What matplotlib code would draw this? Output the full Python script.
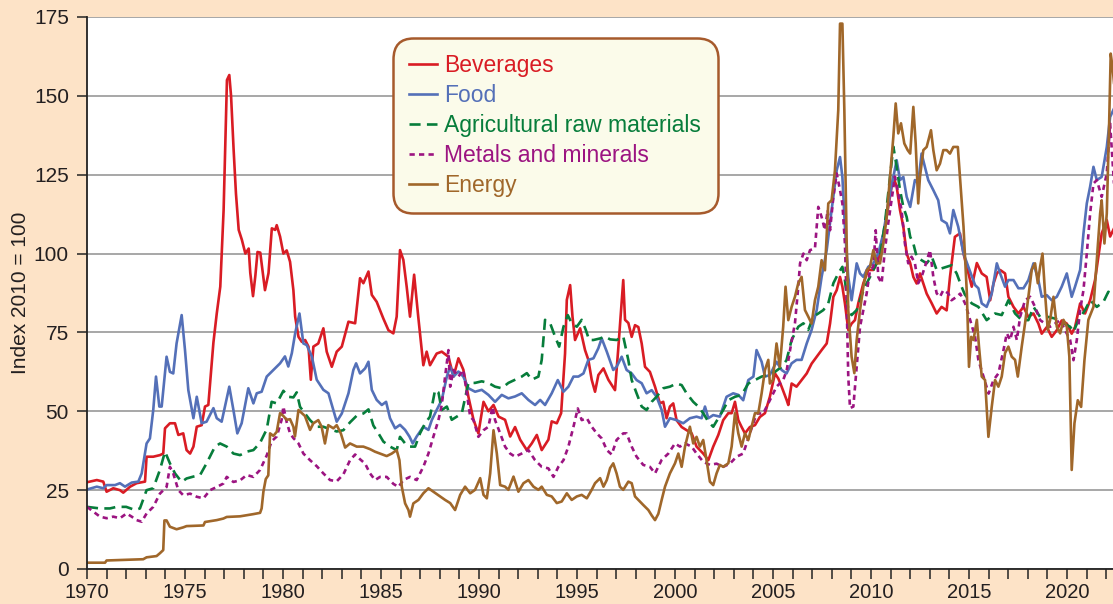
import matplotlib
matplotlib.use("Agg")
import matplotlib.pyplot as plt
from matplotlib.ticker import MultipleLocator

plt.rcParams["font.family"] = ["Liberation Sans", "DejaVu Sans"]

# values (index, 2010 = 100)
bev_t = [1970.0, 1970.5, 1970.83, 1971.0, 1971.34, 1971.68, 1971.85, 1972.2, 1972.53, 1972.96,
         1973.04, 1973.38, 1973.72, 1973.89, 1973.98, 1974.23, 1974.49, 1974.66, 1974.91, 1975.08,
         1975.26, 1975.43, 1975.6, 1975.85, 1976.02, 1976.19, 1976.45, 1976.62, 1976.8, 1976.97,
         1977.14, 1977.26, 1977.35, 1977.48, 1977.6, 1977.74, 1977.9, 1978.08, 1978.25, 1978.33,
         1978.47, 1978.59, 1978.7, 1978.84, 1979.08, 1979.26, 1979.43, 1979.6, 1979.68, 1979.85,
         1980.02, 1980.19, 1980.36, 1980.53, 1980.62, 1980.79, 1980.96, 1981.13, 1981.3, 1981.42,
         1981.55, 1981.8, 1982.06, 1982.23, 1982.49, 1982.74, 1983.0, 1983.34, 1983.68, 1983.93,
         1984.1, 1984.36, 1984.53, 1984.78, 1985.12, 1985.38, 1985.63, 1985.8, 1985.97, 1986.14,
         1986.31, 1986.48, 1986.69, 1986.9, 1987.16, 1987.33, 1987.5, 1987.84, 1988.1, 1988.44,
         1988.7, 1988.95, 1989.2, 1989.46, 1989.72, 1989.97, 1990.23, 1990.48, 1990.74, 1991.0,
         1991.33, 1991.59, 1991.84, 1992.1, 1992.44, 1992.69, 1992.95, 1993.2, 1993.54, 1993.71,
         1993.97, 1994.19, 1994.39, 1994.48, 1994.65, 1994.77, 1994.9, 1995.16, 1995.41, 1995.58,
         1995.75, 1995.92, 1996.09, 1996.35, 1996.6, 1996.94, 1997.1, 1997.36, 1997.45, 1997.62,
         1997.79, 1997.96, 1998.13, 1998.3, 1998.47, 1998.72, 1998.98, 1999.23, 1999.4, 1999.57,
         1999.74, 1999.91, 2000.08, 2000.34, 2000.59, 2000.85, 2001.1, 2001.44, 2001.7, 2001.95,
         2002.21, 2002.46, 2002.72, 2002.89, 2003.06, 2003.23, 2003.4, 2003.57, 2003.82, 2004.08,
         2004.33, 2004.59, 2004.84, 2005.1, 2005.27, 2005.44, 2005.7, 2005.78, 2005.95, 2006.2,
         2006.46, 2006.72, 2006.97, 2007.23, 2007.48, 2007.74, 2007.91, 2008.08, 2008.25, 2008.42,
         2008.54, 2008.67, 2008.84, 2009.01, 2009.18, 2009.35, 2009.61, 2009.86, 2010.12, 2010.37,
         2010.54, 2010.71, 2010.97, 2011.14, 2011.31, 2011.48, 2011.65, 2011.82, 2012.0, 2012.16,
         2012.33, 2012.5, 2012.67, 2012.84, 2013.1, 2013.35, 2013.6, 2013.86, 2014.03, 2014.28,
         2014.54, 2014.72, 2014.97, 2015.14, 2015.4, 2015.65, 2015.9, 2016.08, 2016.25, 2016.42,
         2016.59, 2016.84, 2017.01, 2017.27, 2017.52, 2017.78, 2018.03, 2018.29, 2018.54, 2018.71,
         2018.97, 2019.22, 2019.48, 2019.73, 2019.99, 2020.24, 2020.41, 2020.67, 2020.92, 2021.18,
         2021.43, 2021.77, 2022.03, 2022.2, 2022.4]
bev_v = [27.5, 28.2, 27.7, 24.5, 25.6, 25.0, 24.2, 26.1, 27.2, 27.7,
         35.6, 35.6, 36.1, 36.6, 44.6, 46.2, 46.2, 42.5, 43.0, 37.7,
         36.6, 38.8, 45.1, 45.6, 51.5, 52.0, 71.8, 81.0, 89.5, 113.8,
         155.0, 156.6, 150.0, 133.0, 119.0, 107.5, 104.4, 100.0, 101.6, 93.9,
         86.5, 93.0, 100.5, 100.3, 88.4, 93.8, 108.0, 107.5, 109.0, 105.4,
         100.0, 101.0, 97.4, 88.4, 80.0, 73.6, 72.0, 72.6, 70.5, 60.0,
         70.5, 71.5, 76.3, 68.9, 64.1, 68.9, 70.5, 78.4, 77.9, 92.2,
         90.6, 94.3, 86.9, 84.7, 79.4, 75.7, 74.7, 80.0, 101.1, 98.0,
         89.5, 80.0, 93.3, 80.0, 64.6, 68.9, 64.6, 68.3, 68.9, 67.3,
         61.0, 66.8, 63.2, 54.6, 47.3, 43.0, 53.0, 50.0, 52.0, 48.3,
         47.3, 42.0, 45.0, 41.0, 37.7, 39.8, 42.5, 37.7, 41.0, 46.8,
         46.2, 49.4, 68.3, 85.3, 90.0, 80.0, 72.6, 76.3, 69.4, 66.3,
         60.0, 56.2, 61.5, 63.6, 60.0, 56.7, 69.4, 91.6, 79.0, 78.0,
         73.6, 77.3, 76.7, 71.5, 64.1, 62.5, 57.8, 52.5, 53.0, 47.8,
         51.5, 52.5, 47.2, 45.0, 44.0, 43.0, 38.8, 36.6, 34.5, 38.8,
         42.5, 47.2, 49.4, 49.4, 53.0, 47.2, 45.0, 43.0, 45.0, 45.6,
         48.2, 49.4, 54.6, 62.0, 60.4, 57.8, 53.5, 52.0, 58.8, 57.8,
         59.9, 62.0, 65.1, 67.3, 69.4, 71.5, 77.8, 86.3, 88.4, 92.6,
         89.5, 84.2, 75.8, 77.8, 78.9, 84.2, 90.6, 94.8, 94.8, 98.0,
         103.2, 108.5, 118.0, 124.4, 121.2, 113.8, 108.5, 100.0, 97.0, 92.6,
         90.5, 93.7, 90.5, 87.3, 84.2, 81.0, 83.1, 82.0, 92.6, 105.3,
         106.4, 100.0, 93.7, 89.5, 97.0, 93.7, 92.6, 85.2, 90.5, 93.7,
         94.8, 93.7, 86.3, 83.1, 81.0, 83.1, 79.9, 81.0, 77.8, 74.6,
         76.7, 73.6, 75.7, 78.8, 77.8, 74.6, 76.7, 84.2, 81.0, 85.2,
         91.6, 106.4, 110.6, 105.4, 108.0]

food_t = [1970.0, 1970.5, 1970.83, 1971.0, 1971.43, 1971.68, 1971.94, 1972.28, 1972.62, 1972.79,
          1973.04, 1973.21, 1973.38, 1973.52, 1973.69, 1973.81, 1974.06, 1974.23, 1974.4, 1974.57,
          1974.83, 1975.0, 1975.17, 1975.43, 1975.6, 1975.85, 1976.1, 1976.45, 1976.62, 1976.87,
          1977.26, 1977.47, 1977.67, 1977.89, 1978.23, 1978.49, 1978.66, 1978.91, 1979.17, 1979.51,
          1979.85, 1980.1, 1980.27, 1980.45, 1980.62, 1980.84, 1981.04, 1981.21, 1981.47, 1981.72,
          1982.06, 1982.32, 1982.57, 1982.74, 1983.0, 1983.34, 1983.59, 1983.73, 1983.93, 1984.19,
          1984.36, 1984.53, 1984.78, 1985.04, 1985.26, 1985.46, 1985.72, 1985.97, 1986.23, 1986.45,
          1986.62, 1986.82, 1987.16, 1987.42, 1987.59, 1987.84, 1988.1, 1988.36, 1988.53, 1988.7,
          1988.95, 1989.2, 1989.46, 1989.8, 1990.14, 1990.48, 1990.82, 1991.16, 1991.5, 1991.84,
          1992.18, 1992.52, 1992.86, 1993.12, 1993.37, 1993.71, 1994.02, 1994.31, 1994.56, 1994.82,
          1995.07, 1995.33, 1995.58, 1995.84, 1996.09, 1996.26, 1996.52, 1996.85, 1997.02, 1997.28,
          1997.53, 1997.79, 1998.04, 1998.3, 1998.55, 1998.81, 1999.06, 1999.32, 1999.49, 1999.74,
          2000.08, 2000.42, 2000.76, 2001.1, 2001.36, 2001.53, 2001.7, 2001.95, 2002.29, 2002.63,
          2002.97, 2003.23, 2003.48, 2003.74, 2004.0, 2004.16, 2004.42, 2004.59, 2004.84, 2005.18,
          2005.44, 2005.69, 2005.95, 2006.2, 2006.46, 2006.72, 2006.97, 2007.23, 2007.48, 2007.74,
          2007.99, 2008.25, 2008.42, 2008.54, 2008.67, 2008.84, 2009.01, 2009.27, 2009.44, 2009.61,
          2009.86, 2010.12, 2010.37, 2010.63, 2010.88, 2011.14, 2011.31, 2011.48, 2011.65, 2011.82,
          2012.0, 2012.24, 2012.41, 2012.58, 2012.75, 2012.92, 2013.18, 2013.43, 2013.6, 2013.86,
          2014.03, 2014.2, 2014.45, 2014.72, 2014.97, 2015.31, 2015.48, 2015.65, 2015.9, 2016.16,
          2016.42, 2016.59, 2016.84, 2017.01, 2017.27, 2017.52, 2017.78, 2018.03, 2018.29, 2018.54,
          2018.71, 2018.97, 2019.22, 2019.48, 2019.73, 2019.99, 2020.24, 2020.41, 2020.67, 2020.84,
          2021.01, 2021.18, 2021.35, 2021.52, 2021.77, 2022.03, 2022.2, 2022.4]
food_v = [25.2, 26.1, 25.6, 26.6, 26.6, 27.2, 26.1, 27.4, 27.7, 30.3,
          39.8, 41.4, 50.4, 61.0, 51.5, 51.5, 67.3, 62.5, 62.0, 71.5,
          80.5, 69.4, 56.7, 47.8, 54.6, 46.2, 46.7, 51.0, 47.8, 46.7,
          57.8, 50.4, 43.0, 46.2, 57.3, 52.5, 55.7, 56.2, 61.0, 63.1,
          65.2, 67.4, 64.2, 68.4, 74.7, 81.0, 71.5, 71.0, 67.4, 60.0,
          56.8, 55.7, 50.4, 46.7, 49.3, 55.7, 63.1, 65.2, 62.0, 63.6,
          65.7, 56.8, 53.6, 52.0, 53.0, 47.8, 44.6, 45.7, 44.1, 42.0,
          39.8, 42.0, 45.1, 44.1, 47.2, 50.4, 53.6, 61.0, 64.2, 61.0,
          62.6, 61.0, 57.3, 56.2, 56.8, 55.2, 53.0, 55.2, 54.1, 54.7,
          55.7, 53.6, 52.0, 53.6, 52.0, 55.7, 59.9, 56.2, 57.8, 61.0,
          61.0, 62.0, 66.3, 66.8, 70.0, 73.1, 68.9, 63.1, 64.1, 67.3,
          63.1, 62.0, 59.9, 58.9, 55.7, 56.7, 54.6, 50.4, 45.1, 47.8,
          47.2, 46.2, 47.8, 48.3, 47.8, 51.5, 47.8, 48.8, 48.3, 54.6,
          55.7, 55.2, 53.5, 59.9, 61.0, 69.4, 65.7, 61.0, 61.5, 65.7,
          63.1, 62.0, 65.2, 66.3, 66.3, 71.5, 75.8, 82.1, 92.6, 101.1,
          113.8, 126.4, 130.6, 124.3, 108.5, 92.6, 85.2, 96.9, 93.7, 92.6,
          95.8, 96.9, 100.0, 106.4, 115.9, 124.3, 129.6, 123.3, 124.3, 118.0,
          114.8, 123.3, 122.3, 131.7, 127.5, 123.3, 120.1, 116.9, 110.6, 109.6,
          106.4, 113.8, 108.5, 100.0, 95.8, 90.0, 89.0, 84.2, 83.1, 87.3,
          96.9, 93.7, 89.5, 91.6, 91.6, 89.0, 89.0, 91.6, 96.9, 91.6,
          86.3, 86.8, 85.2, 86.3, 89.5, 93.7, 86.3, 89.5, 94.8, 106.4,
          115.9, 121.2, 127.5, 123.3, 124.3, 133.8, 143.3, 146.0]

agri_t = [1970.0, 1970.66, 1971.17, 1971.51, 1972.0, 1972.45, 1972.7, 1973.04, 1973.38, 1973.72,
          1973.98, 1974.23, 1974.49, 1974.83, 1975.08, 1975.43, 1975.77, 1976.1, 1976.53, 1976.79,
          1977.13, 1977.47, 1977.81, 1978.15, 1978.49, 1978.83, 1979.17, 1979.42, 1979.68, 1980.02,
          1980.27, 1980.53, 1980.7, 1980.87, 1981.12, 1981.38, 1981.72, 1982.06, 1982.4, 1982.74,
          1983.08, 1983.42, 1983.76, 1984.1, 1984.36, 1984.61, 1984.87, 1985.12, 1985.46, 1985.8,
          1985.97, 1986.23, 1986.48, 1986.74, 1986.99, 1987.25, 1987.5, 1987.76, 1987.93, 1988.1,
          1988.36, 1988.61, 1988.87, 1989.12, 1989.46, 1989.8, 1990.14, 1990.48, 1990.82, 1991.16,
          1991.5, 1991.84, 1992.18, 1992.44, 1992.69, 1993.03, 1993.2, 1993.37, 1993.63, 1993.88,
          1994.09, 1994.31, 1994.53, 1994.73, 1994.99, 1995.24, 1995.45, 1995.62, 1995.84, 1996.18,
          1996.43, 1996.69, 1997.02, 1997.36, 1997.62, 1997.79, 1998.04, 1998.3, 1998.55, 1998.81,
          1999.06, 1999.4, 1999.74, 2000.08, 2000.34, 2000.59, 2000.93, 2001.19, 2001.44, 2001.7,
          2001.95, 2002.21, 2002.46, 2002.72, 2003.06, 2003.4, 2003.74, 2004.08, 2004.42, 2004.76,
          2005.1, 2005.44, 2005.69, 2005.95, 2006.29, 2006.55, 2006.8, 2007.06, 2007.31, 2007.57,
          2007.82, 2008.08, 2008.33, 2008.54, 2008.67, 2008.84, 2009.01, 2009.27, 2009.44, 2009.69,
          2009.95, 2010.2, 2010.46, 2010.71, 2010.97, 2011.14, 2011.31, 2011.48, 2011.65, 2011.82,
          2012.0, 2012.16, 2012.33, 2012.58, 2012.84, 2013.1, 2013.35, 2013.6, 2013.86, 2014.11,
          2014.37, 2014.62, 2014.79, 2015.14, 2015.48, 2015.9, 2016.33, 2016.67, 2017.01, 2017.35,
          2017.69, 2018.03, 2018.29, 2018.63, 2019.05, 2019.39, 2019.82, 2020.16, 2020.33, 2020.58,
          2020.92, 2021.18, 2021.52, 2021.86, 2022.11, 2022.4]
agri_v = [19.7, 19.2, 19.2, 19.7, 19.7, 18.7, 19.2, 25.0, 25.6, 31.4,
          37.2, 33.5, 30.3, 27.6, 28.7, 29.3, 29.8, 33.5, 38.8, 39.8,
          38.8, 36.6, 36.1, 37.2, 37.7, 40.0, 44.3, 53.0, 52.5, 56.5,
          54.6, 54.4, 56.0, 51.4, 49.3, 47.2, 45.1, 45.1, 44.3, 43.6,
          44.0, 46.5, 48.6, 49.3, 50.6, 45.5, 43.0, 40.4, 38.8, 37.7,
          41.9, 39.8, 38.8, 38.8, 43.0, 46.2, 48.3, 56.8, 56.0, 50.4,
          51.5, 47.3, 48.3, 49.3, 59.0, 59.0, 59.5, 59.0, 57.8, 57.3,
          59.0, 60.0, 61.0, 62.1, 60.0, 61.0, 66.3, 79.0, 77.9, 73.7,
          70.5, 76.8, 80.5, 77.9, 76.8, 79.0, 75.8, 72.6, 72.6, 73.1,
          73.7, 72.8, 72.6, 73.7, 66.2, 59.9, 55.7, 51.5, 50.4, 53.0,
          54.6, 57.3, 57.8, 58.8, 58.3, 55.7, 53.0, 51.5, 49.4, 46.7,
          45.1, 47.8, 50.4, 53.5, 54.6, 55.2, 58.8, 59.9, 61.0, 61.5,
          62.5, 64.1, 66.2, 72.6, 76.8, 77.9, 75.8, 80.0, 81.0, 82.1,
          84.2, 90.6, 93.7, 95.8, 91.6, 82.1, 80.5, 82.1, 85.2, 89.5,
          92.6, 95.8, 99.0, 109.6, 124.4, 133.9, 127.5, 120.1, 114.8, 111.6,
          105.3, 103.2, 99.0, 97.9, 96.9, 99.0, 94.8, 95.3, 95.8, 96.3,
          93.7, 89.5, 87.0, 84.2, 83.1, 78.9, 81.0, 80.5, 85.2, 81.0,
          78.9, 78.9, 83.1, 79.9, 79.9, 79.4, 77.9, 76.8, 75.2, 78.9,
          82.1, 85.2, 83.1, 84.7, 87.9, 86.8]

met_t = [1970.0, 1970.32, 1970.66, 1971.0, 1971.34, 1971.68, 1972.02, 1972.28, 1972.53, 1972.79,
         1973.04, 1973.38, 1973.72, 1974.06, 1974.23, 1974.4, 1974.66, 1974.91, 1975.26, 1975.6,
         1975.94, 1976.28, 1976.62, 1976.96, 1977.13, 1977.47, 1977.81, 1978.15, 1978.49, 1978.83,
         1979.17, 1979.42, 1979.68, 1979.93, 1980.02, 1980.19, 1980.36, 1980.53, 1980.79, 1981.04,
         1981.38, 1981.72, 1982.06, 1982.4, 1982.74, 1983.08, 1983.42, 1983.68, 1983.93, 1984.19,
         1984.44, 1984.7, 1984.95, 1985.29, 1985.63, 1985.89, 1986.14, 1986.48, 1986.82, 1987.16,
         1987.42, 1987.67, 1987.93, 1988.1, 1988.27, 1988.44, 1988.53, 1988.7, 1988.95, 1989.2,
         1989.38, 1989.55, 1989.72, 1989.97, 1990.23, 1990.48, 1990.69, 1990.82, 1991.08, 1991.33,
         1991.59, 1991.84, 1992.18, 1992.52, 1992.86, 1993.2, 1993.54, 1993.8, 1994.05, 1994.31,
         1994.56, 1994.82, 1995.04, 1995.24, 1995.5, 1995.75, 1996.01, 1996.26, 1996.52, 1996.77,
         1997.02, 1997.36, 1997.53, 1997.79, 1998.04, 1998.38, 1998.72, 1998.98, 1999.32, 1999.66,
         2000.0, 2000.25, 2000.51, 2000.85, 2001.1, 2001.44, 2001.78, 2002.12, 2002.46, 2002.8,
         2003.14, 2003.48, 2003.82, 2004.16, 2004.5, 2004.84, 2005.18, 2005.52, 2005.7, 2005.87,
         2006.12, 2006.29, 2006.38, 2006.55, 2006.72, 2006.89, 2007.14, 2007.31, 2007.48, 2007.65,
         2007.79, 2007.91, 2008.08, 2008.25, 2008.42, 2008.54, 2008.67, 2008.76, 2008.84, 2008.93,
         2009.1, 2009.27, 2009.44, 2009.61, 2009.78, 2009.95, 2010.12, 2010.24, 2010.37, 2010.54,
         2010.71, 2010.88, 2011.05, 2011.22, 2011.39, 2011.56, 2011.73, 2011.9, 2012.07, 2012.24,
         2012.41, 2012.58, 2012.75, 2013.01, 2013.18, 2013.35, 2013.52, 2013.69, 2013.94, 2014.11,
         2014.37, 2014.55, 2014.8, 2015.06, 2015.31, 2015.48, 2015.74, 2016.0, 2016.25, 2016.5,
         2016.76, 2016.93, 2017.1, 2017.27, 2017.44, 2017.61, 2017.86, 2018.12, 2018.37, 2018.63,
         2018.88, 2019.14, 2019.39, 2019.65, 2019.9, 2020.16, 2020.33, 2020.5, 2020.67, 2020.84,
         2021.01, 2021.18, 2021.35, 2021.52, 2021.77, 2022.03, 2022.2, 2022.4]
met_v = [19.7, 18.2, 16.6, 16.1, 16.6, 16.1, 17.6, 16.6, 15.5, 15.0,
         17.6, 19.7, 23.9, 26.0, 32.4, 30.3, 25.0, 23.4, 23.9, 22.9,
         22.4, 25.0, 26.0, 27.1, 29.2, 27.6, 28.1, 29.8, 29.2, 31.4,
         36.0, 40.5, 42.0, 47.3, 51.5, 46.5, 43.0, 41.5, 39.8, 36.6,
         34.5, 32.6, 30.3, 28.2, 27.8, 30.0, 34.5, 36.3, 34.8, 33.4,
         30.3, 28.2, 29.2, 29.2, 27.0, 26.0, 28.2, 29.2, 28.2, 32.4,
         36.6, 41.9, 47.2, 52.0, 61.0, 69.4, 57.8, 63.1, 61.0, 63.1,
         55.7, 48.3, 47.2, 41.9, 44.0, 45.1, 51.4, 47.2, 43.0, 38.8,
         36.6, 35.6, 36.6, 37.7, 34.5, 32.4, 31.9, 29.2, 32.4, 34.5,
         38.8, 45.1, 50.9, 47.2, 47.8, 45.1, 43.0, 41.4, 37.7, 36.3,
         40.9, 43.0, 43.0, 38.8, 35.6, 33.0, 32.4, 30.3, 34.6, 36.6,
         39.8, 38.8, 39.8, 38.8, 36.6, 34.0, 33.0, 33.4, 32.4, 33.4,
         35.6, 36.6, 43.0, 49.3, 49.3, 53.5, 57.8, 59.9, 63.0, 69.4,
         77.9, 89.5, 96.9, 100.0, 97.9, 101.1, 101.6, 114.8, 111.6, 107.4,
         113.8, 107.4, 118.0, 125.4, 120.1, 115.9, 103.2, 84.2, 61.0, 51.0,
         51.5, 64.2, 76.8, 82.1, 87.4, 94.8, 95.8, 107.4, 92.6, 90.6,
         101.1, 109.6, 116.9, 124.4, 119.1, 113.8, 103.2, 96.9, 99.0, 96.9,
         90.6, 92.6, 95.8, 101.1, 92.6, 87.4, 86.3, 88.4, 87.4, 85.2,
         86.3, 87.3, 84.2, 78.9, 73.6, 66.2, 61.0, 55.6, 59.9, 62.0,
         69.4, 74.7, 72.6, 76.8, 72.6, 80.0, 85.2, 86.3, 83.1, 78.9,
         77.8, 76.8, 77.8, 78.9, 75.7, 72.6, 66.2, 72.6, 82.1, 88.4,
         100.0, 112.7, 122.2, 123.3, 118.0, 125.4, 141.2, 122.0]

en_t = [1970.0, 1970.92, 1971.0, 1972.02, 1972.87, 1973.04, 1973.55, 1973.72, 1973.89, 1973.95,
        1974.06, 1974.23, 1974.57, 1974.91, 1975.08, 1975.94, 1976.02, 1976.62, 1976.96, 1977.13,
        1977.81, 1978.49, 1978.83, 1978.91, 1979.0, 1979.12, 1979.25, 1979.34, 1979.51, 1979.68,
        1979.85, 1980.02, 1980.19, 1980.36, 1980.53, 1980.61, 1980.79, 1980.95, 1981.12, 1981.38,
        1981.55, 1981.8, 1981.97, 1982.14, 1982.31, 1982.57, 1982.74, 1982.95, 1983.17, 1983.42,
        1983.76, 1984.1, 1984.44, 1984.69, 1984.95, 1985.29, 1985.55, 1985.8, 1985.94, 1986.06,
        1986.23, 1986.4, 1986.48, 1986.65, 1986.91, 1987.16, 1987.42, 1987.67, 1988.02, 1988.27,
        1988.53, 1988.78, 1989.04, 1989.29, 1989.55, 1989.8, 1990.06, 1990.23, 1990.4, 1990.57,
        1990.74, 1990.91, 1991.08, 1991.33, 1991.5, 1991.76, 1992.01, 1992.27, 1992.52, 1992.78,
        1993.03, 1993.2, 1993.46, 1993.71, 1993.97, 1994.22, 1994.48, 1994.73, 1994.99, 1995.24,
        1995.5, 1995.75, 1995.92, 1996.18, 1996.35, 1996.52, 1996.69, 1996.85, 1997.02, 1997.19,
        1997.36, 1997.62, 1997.79, 1997.96, 1998.13, 1998.38, 1998.64, 1998.81, 1998.98, 1999.15,
        1999.32, 1999.49, 1999.74, 2000.0, 2000.17, 2000.34, 2000.51, 2000.68, 2000.76, 2000.93,
        2001.1, 2001.27, 2001.44, 2001.61, 2001.78, 2001.95, 2002.12, 2002.29, 2002.46, 2002.72,
        2002.89, 2003.06, 2003.23, 2003.4, 2003.57, 2003.74, 2003.91, 2004.08, 2004.25, 2004.42,
        2004.59, 2004.76, 2004.84, 2004.99, 2005.18, 2005.35, 2005.52, 2005.64, 2005.78, 2005.95,
        2006.12, 2006.29, 2006.46, 2006.63, 2006.8, 2006.97, 2007.14, 2007.31, 2007.48, 2007.65,
        2007.82, 2007.99, 2008.16, 2008.33, 2008.42, 2008.54, 2008.64, 2008.76, 2008.84, 2009.01,
        2009.15, 2009.27, 2009.44, 2009.61, 2009.78, 2009.95, 2010.12, 2010.29, 2010.46, 2010.63,
        2010.8, 2010.97, 2011.14, 2011.26, 2011.39, 2011.53, 2011.7, 2011.87, 2012.0, 2012.16,
        2012.28, 2012.41, 2012.5, 2012.67, 2012.84, 2013.06, 2013.18, 2013.35, 2013.52, 2013.69,
        2013.86, 2014.03, 2014.2, 2014.43, 2014.55, 2014.72, 2014.89, 2015.0, 2015.11, 2015.23,
        2015.4, 2015.51, 2015.65, 2015.82, 2015.99, 2016.16, 2016.33, 2016.5, 2016.67, 2016.84,
        2017.01, 2017.18, 2017.35, 2017.49, 2017.69, 2017.86, 2018.03, 2018.2, 2018.37, 2018.51,
        2018.63, 2018.75, 2018.88, 2019.02, 2019.14, 2019.31, 2019.48, 2019.65, 2019.82, 2019.99,
        2020.12, 2020.24, 2020.38, 2020.55, 2020.72, 2020.89, 2021.09, 2021.35, 2021.52, 2021.69,
        2021.77, 2021.91, 2022.03, 2022.15, 2022.23, 2022.32, 2022.4]
en_v = [2.0, 2.0, 2.7, 2.9, 3.1, 3.7, 4.1, 5.0, 6.0, 15.4,
        15.4, 13.4, 12.6, 13.2, 13.6, 13.8, 14.9, 15.5, 16.0, 16.5,
        16.7, 17.4, 17.8, 19.2, 24.5, 28.5, 29.7, 43.0, 42.2, 43.5,
        49.4, 48.5, 47.3, 47.5, 45.1, 42.0, 50.4, 49.5, 48.5, 44.1,
        46.2, 47.2, 45.1, 39.8, 45.6, 44.6, 45.6, 43.0, 38.5, 39.8,
        38.8, 38.8, 38.0, 37.2, 36.6, 35.8, 36.6, 37.7, 34.5, 26.1,
        20.8, 18.7, 16.6, 20.8, 21.9, 24.0, 25.6, 24.5, 23.0, 21.9,
        20.9, 18.7, 23.5, 26.1, 24.0, 25.1, 28.8, 23.5, 22.4, 30.3,
        44.0, 36.6, 26.6, 26.1, 25.1, 29.3, 24.5, 27.2, 28.2, 26.1,
        25.1, 26.1, 23.5, 23.0, 20.9, 21.4, 24.0, 21.9, 23.0, 23.5,
        22.4, 25.1, 27.2, 28.8, 26.1, 28.2, 32.0, 33.5, 30.3, 26.1,
        25.1, 27.7, 27.2, 23.0, 21.9, 20.3, 18.7, 17.0, 15.5, 17.5,
        21.9, 26.1, 30.3, 33.5, 36.6, 32.4, 38.8, 43.0, 45.1, 39.8,
        41.9, 38.8, 40.9, 34.5, 27.7, 26.6, 30.3, 33.0, 32.4, 33.5,
        38.8, 49.4, 43.0, 38.8, 43.0, 40.9, 45.1, 49.4, 49.4, 55.7,
        63.1, 66.3, 58.8, 59.9, 71.5, 64.1, 76.8, 89.5, 78.9, 83.1,
        86.3, 90.6, 92.6, 82.1, 80.0, 77.8, 85.2, 89.5, 97.9, 94.7,
        115.9, 116.9, 126.4, 145.5, 172.9, 172.9, 145.5, 103.2, 82.1, 67.3,
        62.1, 72.6, 82.1, 89.5, 94.7, 95.8, 101.1, 96.9, 96.9, 103.2,
        111.6, 124.4, 137.0, 147.6, 138.1, 141.3, 134.9, 132.8, 131.7, 146.5,
        134.9, 115.9, 124.4, 132.8, 133.8, 139.1, 132.8, 126.4, 128.5, 132.8,
        132.8, 131.7, 133.8, 133.8, 123.3, 108.5, 87.4, 64.1, 73.6, 72.6,
        79.0, 70.5, 61.0, 59.9, 41.9, 51.4, 59.9, 57.8, 61.0, 68.5,
        70.5, 67.3, 66.3, 61.0, 70.5, 77.9, 86.3, 94.8, 96.9, 90.6,
        95.9, 100.0, 87.4, 75.8, 79.0, 86.3, 76.8, 74.7, 79.0, 76.8,
        67.3, 31.4, 46.2, 53.5, 51.4, 66.2, 79.0, 83.1, 98.0, 112.7,
        116.9, 103.2, 112.7, 141.2, 163.4, 159.2, 154.0]

series_names = ["Beverages", "Food", "Agricultural raw materials", "Metals and minerals", "Energy"]
y_ticks = [0, 25, 50, 75, 100, 125, 150, 175]
x_ticks = [1970, 1975, 1980, 1985, 1990, 1995, 2000, 2005, 2010, 2015, 2020]

BG = "#fde3c7"
TEXT = "#231f20"


def main() -> None:
    fig = plt.figure(figsize=(11.13, 6.04), dpi=100, facecolor=BG)
    ax = fig.add_axes([87 / 1113, 1 - 569 / 604, 1026 / 1113, 552 / 604])
    ax.set_facecolor("white")

    styles = [
        (bev_t, bev_v, "#d91c24", "-", None),
        (food_t, food_v, "#5470b8", "-", None),
        (agri_t, agri_v, "#077d3b", "--", (4.2, 2.4)),
        (met_t, met_v, "#9c1481", "--", (2.0, 1.6)),
        (en_t, en_v, "#a0672a", "-", None),
    ]
    for (t, v, color, ls, dashes), name in zip(styles, series_names):
        line, = ax.plot(t, v, color=color, lw=1.9, ls=ls, label=name,
                        solid_joinstyle="round")
        if dashes:
            line.set_dashes(dashes)

    ax.set_xlim(1970, 1970 + 1026 / 19.6)
    ax.set_ylim(0, 175)
    ax.set_yticks(y_ticks)
    ax.set_xticks(x_ticks)
    ax.xaxis.set_minor_locator(MultipleLocator(1))

    ax.yaxis.grid(True, color="#8f8f8f", lw=1.1)
    ax.set_axisbelow(True)

    for side in ("top", "right"):
        ax.spines[side].set_visible(False)
    for side in ("left", "bottom"):
        ax.spines[side].set_color("#222222")
        ax.spines[side].set_linewidth(1.3)

    ax.tick_params(axis="both", which="both", direction="out", length=7,
                   width=1.1, color="#222222", labelsize=15, labelcolor=TEXT, pad=6)
    # x labels sit close to the bottom edge, keep them inside the figure
    ax.tick_params(axis="x", labelsize=14.5, pad=3)
    ax.set_ylabel("Index 2010 = 100", fontsize=15, color=TEXT, labelpad=3)

    leg = ax.legend(loc="upper left", bbox_to_anchor=(0.298, 0.962), fontsize=16.5,
                    handlelength=1.2, handletextpad=0.33, labelspacing=0.3,
                    borderpad=0.72, borderaxespad=0, fancybox=True, framealpha=1)
    frame = leg.get_frame()
    frame.set_facecolor("#fbfbea")
    frame.set_edgecolor("#a65a2c")
    frame.set_linewidth(1.8)
    frame.set_boxstyle("round", pad=0, rounding_size=0.9)
    for text, line in zip(leg.get_texts(), leg.get_lines()):
        text.set_color(line.get_color())

    fig.savefig("out.png", dpi=100, facecolor=BG)


if __name__ == "__main__":
    main()
